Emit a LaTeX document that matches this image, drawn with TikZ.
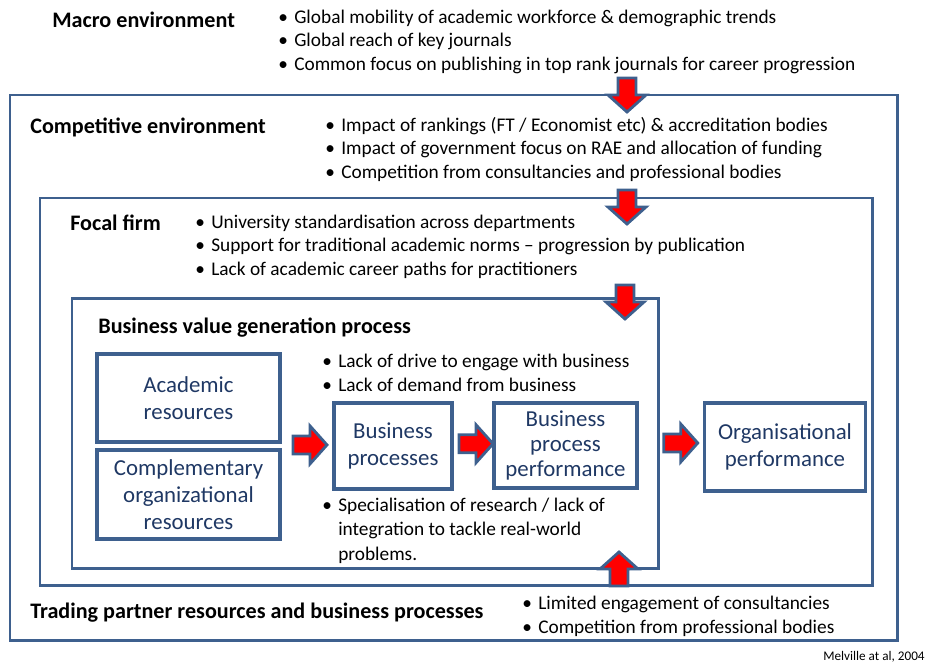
\documentclass[tikz,border=0pt]{standalone}
\usepackage{fontspec}
\setmainfont{Carlito}
\usetikzlibrary{calc}

\definecolor{frameblue}{RGB}{62,96,142}
\definecolor{labelnavy}{RGB}{31,56,100}

\newcommand\bul{\textbullet\hspace{3.6pt}}
\newcommand\nobul{\phantom{\textbullet\hspace{3.6pt}}}

\begin{document}
\begin{tikzpicture}[x=0.2mm, y=-0.2mm,
    frame/.style={draw=frameblue, line width=1.7pt},
    box/.style={draw=frameblue, line width=2.1pt, text=labelnavy, align=center,
      inner sep=0pt, font=\fontsize{13}{15.5}\selectfont},
    hd/.style={anchor=base west, inner sep=0pt, font=\fontsize{12.6}{14}\selectfont\bfseries},
    pts/.style={anchor=base west, inner sep=0pt, align=left,
      font=\fontsize{11}{13.3}\selectfont},
    blk/.pic={\draw[draw=frameblue, fill=red, line width=1.6pt]
      (-17,-9) -- (0,-9) -- (0,-19) -- (17,0) -- (0,19) -- (0,9) -- (-17,9) -- cycle;}
  ]
  \useasboundingbox (0,0) rectangle (929,663);

  % nested environments
  \draw[frame] (10,95) rectangle (897,640);
  \draw[frame] (40,198) rectangle (872,585);
  \draw[frame] (72,298) rectangle (658,568);

  % resources and processes
  \node[box, minimum width=36.6mm, minimum height=17.6mm] (acad) at (188.5,398) {Academic\\resources};
  \node[box, line width=2.6pt, minimum width=36.6mm, minimum height=17.8mm] (compl) at (188.5,494.5) {Complementary\\organizational\\resources};
  \node[box, minimum width=23.6mm, minimum height=17.2mm] (bproc) at (393,446) {Business\\processes};
  \node[box, font=\fontsize{13}{14.2}\selectfont, minimum width=28.6mm, minimum height=17mm] (bperf) at (565.5,445.5) {Business\\process\\performance};
  \node[box, minimum width=32.2mm, minimum height=17.6mm] (orgperf) at (785,447) {Organisational\\performance};

  % block arrows
  \pic at ($(acad.south east)!0.5!(bproc.west)+(3,0)$) {blk};
  \pic at ($(bproc.east)!0.5!(bperf.west)+(3,-2)$) {blk};
  \pic at ($(bperf.east |- orgperf.west)!0.5!(orgperf.west)+(10,-4)$) {blk};
  \foreach \x/\y/\r in {627/95/-90, 627/207/-90, 625/302/-90, 619/569/90}
    \pic[rotate=\r] at (\x,\y) {blk};

  % headings
  \node[hd] (macro) at (52,27) {Macro environment};
  \node[hd] (comp) at (30,133) {Competitive environment};
  \node[hd] (focal) at (70,230) {Focal firm};
  \node[hd] (bvg) at (98,333) {Business value generation process};
  \node[hd] (trade) at (30,618) {Trading partner resources and business processes};

  % factors at each level (anchored on the last line)
  \node[pts] (macrolist) at (278,70) {\bul Global mobility of academic workforce \& demographic trends\\
    \bul Global reach of key journals\\
    \bul Common focus on publishing in top rank journals for career progression};
  \node[pts] (complist) at (325,178) {\bul Impact of rankings (FT / Economist etc) \& accreditation bodies\\
    \bul Impact of government focus on RAE and allocation of funding\\
    \bul Competition from consultancies and professional bodies};
  \node[pts] (focallist) at (195,275) {\bul University standardisation across departments\\
    \bul Support for traditional academic norms -- progression by publication\\
    \bul Lack of academic career paths for practitioners};
  \node[pts] (lacklist) at (322,391) {\bul Lack of drive to engage with business\\
    \bul Lack of demand from business};
  \node[pts, font=\fontsize{11}{13.8}\selectfont] (speclist) at (322,560) {\bul Specialisation of research / lack of\\
    \nobul integration to tackle real-world\\
    \nobul problems.};
  \node[pts] (tradelist) at (522,633) {\bul Limited engagement of consultancies\\
    \bul Competition from professional bodies};

  \node[anchor=base east, inner sep=0pt, font=\fontsize{7.5}{9}\selectfont] (src) at (925,660) {Melville at al, 2004};
\end{tikzpicture}
\end{document}
